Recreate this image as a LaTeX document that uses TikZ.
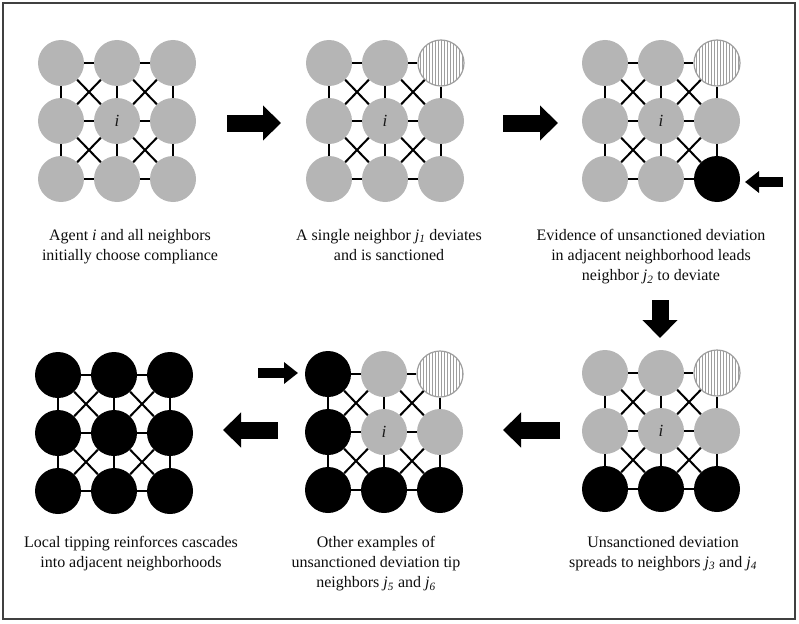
\documentclass[tikz,border=0pt]{standalone}
\usepackage{fontspec}
\setmainfont{Liberation Serif}
\usetikzlibrary{calc,arrows.meta,patterns}

\definecolor{gris}{gray}{0.71}
\definecolor{hachure}{gray}{0.62}
\definecolor{cadre}{gray}{0.25}

\tikzset{
 agent/.style={circle, minimum size=46pt, inner sep=0pt, fill=gris},
 comply/.style={agent},
 ego/.style={agent, label={[font=\fontsize{17}{17}\selectfont\itshape, text=black!90]center:i}},
 deviate/.style={agent, fill=black},
 sanction/.style={agent, fill=white, draw=hachure, line width=1.2pt,
   postaction={pattern=vertical lines, pattern color=hachure}},
 lien/.style={line width=2pt},
 grosse/.style={line width=17pt, -{Triangle[length=18pt,width=34pt]}},
 petite/.style={line width=10pt, -{Triangle[length=14pt,width=21pt]}},
 legende/.style={align=center, anchor=north, inner sep=0pt,
   font=\fontsize{16}{20}\selectfont, text=black!95}
}

\begin{document}
\begin{tikzpicture}[x=1pt, y=-1pt]
\useasboundingbox (0,0) rectangle (799,623);
\draw[cadre, line width=1.5pt] (3,3) rectangle (795,619);

%grilles : nom / centre / etats ligne par ligne
\foreach \g/\gx/\gy/\etats in {
  a/117/121/{comply,comply,comply,comply,ego,comply,comply,comply,comply},
  b/385/121/{comply,comply,sanction,comply,ego,comply,comply,comply,comply},
  c/661/121/{comply,comply,sanction,comply,ego,comply,comply,comply,deviate},
  d/114/433/{deviate,deviate,deviate,deviate,deviate,deviate,deviate,deviate,deviate},
  e/384/432/{deviate,comply,sanction,deviate,ego,comply,deviate,deviate,deviate},
  f/661/431/{comply,comply,sanction,comply,ego,comply,deviate,deviate,deviate}}
{
  \foreach \s [count=\k from 0] in \etats
  {\pgfmathtruncatemacro\lig{\k/3}
   \pgfmathtruncatemacro\colo{\k-3*\lig}
   \node[\s] (\g-\lig-\colo) at (\gx+\colo*56-56, \gy+\lig*58-58) {};}
  % liens horizontaux, verticaux et croix
  \foreach \l/\m in {0/1,1/2}
  {\foreach \j in {0,1,2}
   {\draw[lien] (\g-\j-\l) -- (\g-\j-\m);
    \draw[lien] (\g-\l-\j) -- (\g-\m-\j);}
   \foreach \j/\n in {0/1,1/2}
   {\draw[lien] (\g-\l-\j) -- (\g-\m-\n);
    \draw[lien] (\g-\l-\n) -- (\g-\m-\j);}
  }
}

%fleches
\coordinate (f1a) at (227,123); \coordinate (f1b) at (281,123);
\coordinate (f2a) at (503,123); \coordinate (f2b) at (558,123);
\coordinate (f3a) at (783,182); \coordinate (f3b) at (745,182);
\coordinate (f4a) at (660,300); \coordinate (f4b) at (660,338);
\coordinate (f5a) at (560,430); \coordinate (f5b) at (503,430);
\coordinate (f6a) at (278,430); \coordinate (f6b) at (223,430);
\coordinate (f7a) at (258,373); \coordinate (f7b) at (298,373);
\draw[grosse] (f1a) -- (f1b);
\draw[grosse] (f2a) -- (f2b);
\draw[petite] (f3a) -- (f3b);
\draw[grosse] (f4a) -- (f4b);
\draw[grosse] (f5a) -- (f5b);
\draw[grosse] (f6a) -- (f6b);
\draw[petite] (f7a) -- (f7b);

%legendes
\node[legende] (ta) at (130,229) {Agent \textit{i} and all neighbors\\initially choose compliance};
\node[legende] (tb) at (389,229) {A single neighbor \textit{j}\textsubscript{\textit{1}} deviates\\and is sanctioned};
\node[legende] (tc) at (651,229) {Evidence of unsanctioned deviation\\in adjacent neighborhood leads\\neighbor \textit{j}\textsubscript{\textit{2}} to deviate};
\node[legende] (td) at (131,536) {Local tipping reinforces cascades\\into adjacent neighborhoods};
\node[legende] (te) at (376,536) {Other examples of\\unsanctioned deviation tip\\neighbors \textit{j}\textsubscript{\textit{5}} and \textit{j}\textsubscript{\textit{6}}};
\node[legende] (tf) at (663,536) {Unsanctioned deviation\\spreads to neighbors \textit{j}\textsubscript{\textit{3}} and \textit{j}\textsubscript{\textit{4}}};

\end{tikzpicture}
\end{document}
